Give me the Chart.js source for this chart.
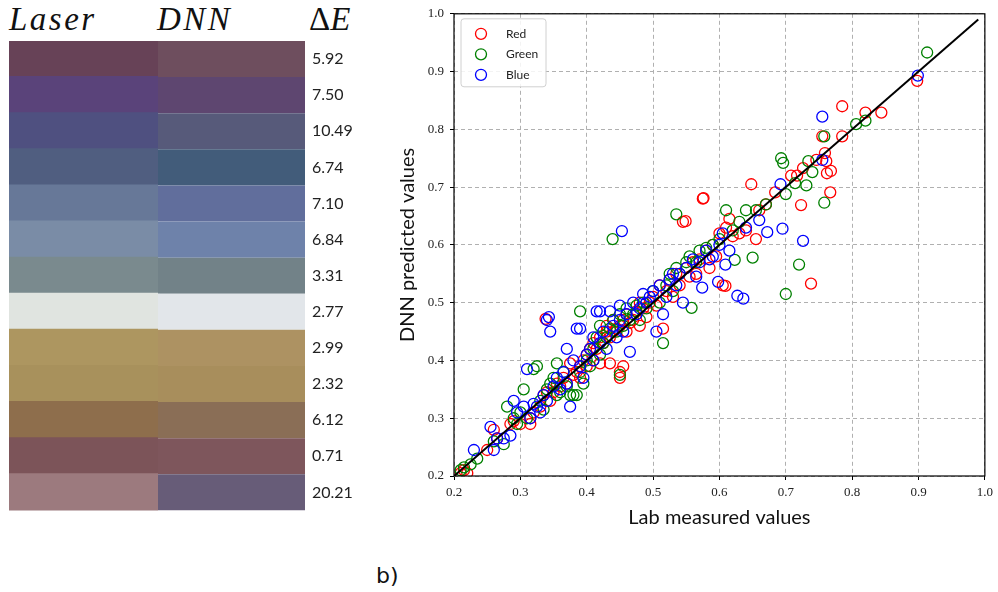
<!DOCTYPE html>
<html>
<head>
<meta charset="utf-8">
<script src="https://cdn.jsdelivr.net/npm/chart.js@4/dist/chart.umd.min.js"></script>
<style>
  body { margin: 0; background: #fff; width: 998px; height: 592px; position: relative; overflow: hidden; }
  .hdr { position: absolute; top: 1px; font-family: "Liberation Serif", serif; font-style: italic; font-size: 33px; color: #111; letter-spacing: 2.5px; }
  .up { font-style: normal; letter-spacing: 0; }
  #swatch { position: absolute; left: 0; top: 0; }
  #scatter { position: absolute; left: 380px; top: 0; }
  #tag { position: absolute; left: 376px; top: 563px; font-family: "DejaVu Sans", sans-serif; font-size: 22px; color: #111; }
</style>
</head>
<body>
<div class="hdr" style="left:9px">Laser</div>
<div class="hdr" style="left:157px">DNN</div>
<div class="hdr" style="left:309px"><span class="up">Δ</span>E</div>
<canvas id="swatch" width="380" height="527"></canvas>
<canvas id="scatter" width="618" height="540"></canvas>
<div id="tag">b)</div>
<script>
// colour patches, top to bottom
const rows = ['1', '2', '3', '4', '5', '6', '7', '8', '9', '10', '11', '12', '13'];
const deltaE = ['5.92', '7.50', '10.49', '6.74', '7.10', '6.84', '3.31', '2.77', '2.99', '2.32', '6.12', '0.71', '20.21'];
const laserColors = ['#674257', '#5a437a', '#4f5080', '#505e80', '#677898', '#7a8ca6', '#7a8a8e',
                     '#e0e4e0', '#ad9660', '#a8915c', '#8e6e4c', '#7c5459', '#9c7a7e'];
const dnnColors = ['#6e4e5e', '#5e4670', '#575a7a', '#425c7a', '#616e9c', '#6e82aa', '#728288',
                   '#e2e6ea', '#ad9262', '#a88e5c', '#8a6e56', '#7e565c', '#675c78'];
const laserSpan = [0, 1];
const dnnSpan = [1, 2];

// Lab measured vs DNN predicted, [x, y]
const redPoints = [[0.21,0.205],[0.215,0.21],[0.22,0.205],[0.25,0.245],[0.26,0.28],[0.265,0.265],[0.285,0.29],[0.29,0.295],
  [0.3,0.29],[0.315,0.29],[0.315,0.3],[0.32,0.31],[0.33,0.32],[0.335,0.34],[0.338,0.472],[0.34,0.345],[0.345,0.33],[0.35,0.345],
  [0.355,0.36],[0.36,0.355],[0.365,0.37],[0.37,0.36],[0.375,0.395],[0.38,0.375],[0.385,0.38],[0.39,0.37],[0.39,0.39],[0.395,0.4],
  [0.4,0.39],[0.4,0.41],[0.405,0.42],[0.41,0.4],[0.41,0.43],[0.415,0.42],[0.42,0.395],[0.42,0.44],[0.425,0.43],[0.43,0.45],
  [0.43,0.46],[0.435,0.395],[0.435,0.44],[0.44,0.45],[0.44,0.47],[0.445,0.455],[0.45,0.37],[0.45,0.38],[0.45,0.46],[0.455,0.39],
  [0.455,0.47],[0.46,0.45],[0.46,0.48],[0.465,0.465],[0.47,0.47],[0.475,0.485],[0.48,0.46],[0.48,0.5],[0.485,0.49],[0.49,0.475],
  [0.495,0.5],[0.5,0.51],[0.505,0.495],[0.51,0.53],[0.515,0.455],[0.52,0.52],[0.525,0.54],[0.53,0.51],[0.535,0.55],[0.54,0.53],
  [0.545,0.64],[0.549,0.641],[0.55,0.56],[0.555,0.545],[0.56,0.57],[0.565,0.55],[0.57,0.575],[0.575,0.68],[0.576,0.681],[0.58,0.59],
  [0.585,0.56],[0.59,0.6],[0.595,0.58],[0.6,0.62],[0.605,0.53],[0.609,0.529],[0.61,0.63],[0.615,0.645],[0.62,0.615],[0.63,0.62],
  [0.64,0.625],[0.648,0.705],[0.655,0.61],[0.66,0.66],[0.67,0.67],[0.684,0.691],[0.708,0.72],[0.717,0.72],[0.723,0.669],
  [0.726,0.733],[0.738,0.533],[0.746,0.747],[0.755,0.788],[0.759,0.759],[0.761,0.745],[0.762,0.724],[0.767,0.691],[0.768,0.728],
  [0.785,0.84],[0.785,0.788],[0.82,0.829],[0.844,0.829],[0.898,0.884]];
const greenPoints = [[0.21,0.21],[0.215,0.215],[0.225,0.22],[0.235,0.23],[0.26,0.26],[0.275,0.255],[0.28,0.32],[0.29,0.3],
  [0.295,0.29],[0.3,0.31],[0.305,0.35],[0.31,0.3],[0.32,0.385],[0.325,0.39],[0.33,0.33],[0.335,0.315],[0.34,0.35],[0.345,0.36],
  [0.35,0.37],[0.355,0.395],[0.355,0.34],[0.36,0.345],[0.365,0.38],[0.37,0.355],[0.375,0.34],[0.38,0.34],[0.385,0.34],[0.39,0.485],
  [0.39,0.38],[0.395,0.36],[0.4,0.4],[0.405,0.39],[0.41,0.42],[0.415,0.44],[0.42,0.41],[0.42,0.46],[0.425,0.43],[0.43,0.44],
  [0.435,0.455],[0.439,0.61],[0.44,0.47],[0.445,0.45],[0.45,0.375],[0.45,0.48],[0.455,0.46],[0.46,0.49],[0.465,0.47],[0.47,0.48],
  [0.475,0.495],[0.48,0.47],[0.485,0.5],[0.49,0.49],[0.5,0.52],[0.51,0.5],[0.515,0.43],[0.52,0.53],[0.525,0.55],[0.53,0.52],
  [0.535,0.653],[0.535,0.56],[0.54,0.55],[0.55,0.57],[0.555,0.58],[0.558,0.491],[0.565,0.57],[0.57,0.59],[0.58,0.595],[0.59,0.6],
  [0.6,0.61],[0.61,0.66],[0.62,0.625],[0.623,0.574],[0.63,0.64],[0.64,0.66],[0.65,0.578],[0.655,0.66],[0.67,0.67],[0.693,0.75],
  [0.696,0.742],[0.7,0.688],[0.7,0.515],[0.714,0.707],[0.72,0.566],[0.731,0.703],[0.734,0.745],[0.74,0.726],[0.758,0.788],
  [0.758,0.673],[0.806,0.809],[0.82,0.815],[0.913,0.933]];
const bluePoints = [[0.23,0.245],[0.255,0.285],[0.26,0.245],[0.265,0.265],[0.275,0.265],[0.285,0.27],[0.29,0.33],[0.295,0.31],
  [0.305,0.32],[0.31,0.385],[0.315,0.3],[0.32,0.325],[0.325,0.32],[0.33,0.31],[0.335,0.34],[0.34,0.33],[0.34,0.47],[0.343,0.475],
  [0.345,0.45],[0.35,0.355],[0.355,0.37],[0.36,0.35],[0.365,0.38],[0.37,0.42],[0.37,0.36],[0.375,0.32],[0.38,0.4],[0.385,0.455],
  [0.39,0.455],[0.39,0.39],[0.395,0.37],[0.4,0.41],[0.405,0.42],[0.41,0.44],[0.41,0.4],[0.415,0.485],[0.42,0.485],[0.42,0.43],
  [0.425,0.45],[0.43,0.42],[0.435,0.485],[0.44,0.46],[0.445,0.44],[0.45,0.495],[0.45,0.47],[0.453,0.624],[0.455,0.45],[0.46,0.48],
  [0.465,0.415],[0.47,0.5],[0.475,0.48],[0.48,0.49],[0.485,0.515],[0.49,0.5],[0.495,0.51],[0.5,0.52],[0.505,0.45],[0.51,0.53],
  [0.515,0.48],[0.52,0.51],[0.525,0.54],[0.53,0.55],[0.535,0.53],[0.54,0.55],[0.545,0.5],[0.55,0.56],[0.56,0.575],[0.565,0.545],
  [0.57,0.57],[0.574,0.526],[0.58,0.59],[0.585,0.575],[0.59,0.58],[0.598,0.536],[0.6,0.6],[0.605,0.62],[0.609,0.566],[0.615,0.59],
  [0.627,0.512],[0.636,0.507],[0.64,0.63],[0.66,0.643],[0.672,0.622],[0.692,0.705],[0.695,0.628],[0.726,0.607],[0.755,0.822],
  [0.755,0.747],[0.899,0.893]];
const fitLine = [[0.2, 0.2], [0.99, 0.99]];
const axisTicks = [0.2, 0.3, 0.4, 0.5, 0.6, 0.7, 0.8, 0.9, 1.0];

const toXY = pts => pts.map(([x, y]) => ({ x, y }));

new Chart(document.getElementById('swatch'), {
  type: 'bar',
  data: {
    labels: rows,
    datasets: [
      { label: 'Laser', data: rows.map(() => laserSpan), backgroundColor: laserColors, borderWidth: 0, inflateAmount: 1 },
      { label: 'DNN', data: rows.map(() => dnnSpan), backgroundColor: dnnColors, inflateAmount: 1,
        borderColor: '#f4f4f4', borderWidth: { left: 2, right: 0, top: 0, bottom: 0 }, borderSkipped: false }
    ]
  },
  options: {
    indexAxis: 'y',
    responsive: false,
    animation: false,
    layout: { padding: { left: 9, top: 41, bottom: 5, right: 0 } },
    plugins: { legend: { display: false }, tooltip: { enabled: false } },
    datasets: { bar: { barPercentage: 1, categoryPercentage: 1, grouped: false } },
    scales: {
      x: { display: false, min: 0, max: 2 },
      y: {
        position: 'right',
        grid: { display: false, drawTicks: false },
        border: { display: false },
        afterFit: s => { s.width = 75; },
        ticks: {
          padding: 7,
          color: '#222',
          font: { family: 'Lato', size: 16 },
          callback: (v, i) => deltaE[i]
        }
      }
    }
  }
});

const frameAndLegend = {
  id: 'frameAndLegend',
  afterDraw(chart) {
    const { ctx, chartArea: a } = chart;
    ctx.save();
    ctx.strokeStyle = '#000';
    ctx.lineWidth = 1.2;
    ctx.strokeRect(a.left, a.top, a.right - a.left, a.bottom - a.top);
    // legend box in the upper left corner
    const bx = a.left + 7, by = a.top + 5, bw = 85, bh = 68;
    ctx.fillStyle = 'rgba(255,255,255,0.85)';
    ctx.strokeStyle = '#d0d0d0';
    ctx.lineWidth = 1;
    ctx.beginPath();
    ctx.roundRect(bx, by, bw, bh, 3);
    ctx.fill();
    ctx.stroke();
    ctx.font = '12px Lato';
    ctx.textBaseline = 'middle';
    chart.data.datasets.filter(d => d.legend).forEach((d, i) => {
      const cy = by + 15 + i * 20.5;
      ctx.strokeStyle = d.borderColor;
      ctx.lineWidth = 1.3;
      ctx.beginPath();
      ctx.arc(bx + 20, cy, 5.5, 0, Math.PI * 2);
      ctx.stroke();
      ctx.fillStyle = '#222';
      ctx.fillText(d.label, bx + 45, cy);
    });
    ctx.restore();
  }
};

const pointStyle = { backgroundColor: 'transparent', pointRadius: 5.5, pointBorderWidth: 1.3, pointHoverRadius: 5.5, legend: true };

new Chart(document.getElementById('scatter'), {
  type: 'scatter',
  data: {
    datasets: [
      { label: 'Red', data: toXY(redPoints), borderColor: '#ff0000', order: 3, ...pointStyle },
      { label: 'Green', data: toXY(greenPoints), borderColor: '#008000', order: 2, ...pointStyle },
      { label: 'Blue', data: toXY(bluePoints), borderColor: '#0000ff', order: 1, ...pointStyle },
      { label: 'fit', data: toXY(fitLine), showLine: true, borderColor: '#000', borderWidth: 2, pointRadius: 0, order: 0 }
    ]
  },
  options: {
    responsive: false,
    animation: false,
    layout: { padding: { left: 0, top: 12, right: 12, bottom: 0 } },
    plugins: { legend: { display: false }, tooltip: { enabled: false } },
    scales: {
      x: {
        type: 'linear', min: 0.2, max: 1.0,
        afterBuildTicks: s => { s.ticks = axisTicks.map(v => ({ value: v })); },
        afterFit: s => { s.height = 64; },
        grid: { color: '#b0b0b0', lineWidth: 1, tickColor: '#000', tickLength: 4, tickBorderDash: [] },
        border: { display: false, dash: [4, 3] },
        ticks: { color: '#222', padding: 5, font: { family: 'Liberation Serif', size: 13 }, callback: v => v.toFixed(1) },
        title: { display: true, text: 'Lab measured values', color: '#111', font: { family: 'Lato', size: 20 }, padding: { top: 0, bottom: 10 } }
      },
      y: {
        type: 'linear', min: 0.2, max: 1.0,
        afterBuildTicks: s => { s.ticks = axisTicks.map(v => ({ value: v })); },
        afterFit: s => { s.width = 74; },
        grid: { color: '#b0b0b0', lineWidth: 1, tickColor: '#000', tickLength: 4, tickBorderDash: [] },
        border: { display: false, dash: [4, 3] },
        ticks: { color: '#222', padding: 6, font: { family: 'Liberation Serif', size: 13 }, callback: v => v.toFixed(1) },
        title: { display: true, text: 'DNN predicted values', color: '#111', font: { family: 'Lato', size: 20 }, padding: { top: 16, bottom: 0 } }
      }
    }
  },
  plugins: [frameAndLegend]
});
</script>
</body>
</html>
